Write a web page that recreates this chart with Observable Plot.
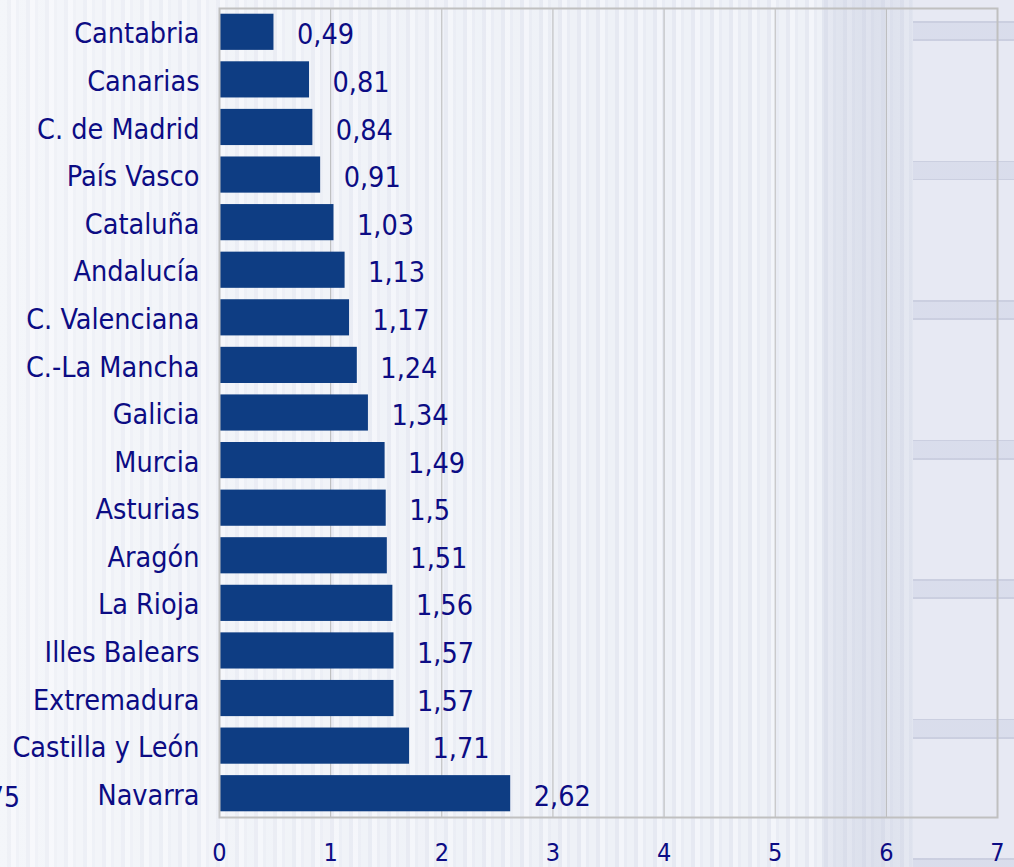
<!DOCTYPE html>
<html>
<head>
<meta charset="utf-8">
<script src="https://cdn.jsdelivr.net/npm/d3@7"></script>
<script src="https://cdn.jsdelivr.net/npm/@observablehq/plot@0.6"></script>
<style>
  html, body { margin: 0; padding: 0; }
  body {
    width: 1014px; height: 867px; overflow: hidden; position: relative;
    background:
      linear-gradient(90deg, rgba(0,0,0,0) 0px, rgba(0,0,0,0) 822px, rgba(196,202,222,0.28) 822px, rgba(190,196,218,0.38) 870px, rgba(196,202,222,0.30) 913px, rgba(0,0,0,0) 913px),
      linear-gradient(90deg, rgba(255,255,255,0.35) 0px, rgba(255,255,255,0) 600px),
      repeating-linear-gradient(90deg, #eef1f7 0px, #eef1f7 7px, #e6e9f2 7px, #e6e9f2 11px, #f3f5fa 11px, #f3f5fa 16px, #e9ecf4 16px, #e9ecf4 19px);
  }
  #right {
    position: absolute; left: 913px; top: 0; width: 101px; height: 867px;
    background: #e7e9f3;
  }
  #band {
    position: absolute; left: 913px; top: 0; width: 101px; height: 867px;
    background: repeating-linear-gradient(180deg, rgba(0,0,0,0) 0px, rgba(0,0,0,0) 21px, rgba(200,204,222,0.9) 21px, rgba(200,204,222,0.9) 23px, rgba(214,218,234,0.8) 23px, rgba(214,218,234,0.8) 39px, rgba(200,204,222,0.9) 39px, rgba(200,204,222,0.9) 41px, rgba(0,0,0,0) 41px, rgba(0,0,0,0) 139.5px);
  }
  #chart { position: absolute; left: 0; top: 0; }
  #cut { position: absolute; left: -12px; top: 781px; font: 28px "DejaVu Sans Condensed", "DejaVu Sans", sans-serif; color: #0c0c84; }
</style>
</head>
<body>
<div id="right"></div>
<div id="band"></div>
<div id="cut">75</div>
<div id="chart"></div>
<script>
const regions = ["Cantabria","Canarias","C. de Madrid","País Vasco","Cataluña","Andalucía","C. Valenciana","C.-La Mancha","Galicia","Murcia","Asturias","Aragón","La Rioja","Illes Balears","Extremadura","Castilla y León","Navarra"];
const values = [0.49,0.81,0.84,0.91,1.03,1.13,1.17,1.24,1.34,1.49,1.5,1.51,1.56,1.57,1.57,1.71,2.62];
const xTicks = [0,1,2,3,4,5,6,7];

const data = regions.map((r, i) => ({region: r, value: values[i]}));
const navy = "#0c0c84";
const barColor = "#0e3d83";
const fmt = v => String(v).replace(".", ",");

const chart = Plot.plot({
  width: 1014,
  height: 867,
  marginLeft: 219,
  marginRight: 17,
  marginTop: 8,
  marginBottom: 50,
  style: {background: "transparent", fontFamily: "'DejaVu Sans Condensed', 'DejaVu Sans', sans-serif", color: navy, overflow: "visible"},
  x: {domain: [0, 7]},
  y: {domain: regions, paddingInner: 0.24, paddingOuter: 0.12, round: false},
  marks: [
    Plot.gridX(xTicks, {stroke: "#b8b8b8", strokeOpacity: 1, strokeWidth: 1}),
    Plot.barX(data, {x: "value", y: "region", fill: barColor}),
    Plot.frame({stroke: "#c0c0c0", strokeWidth: 2}),
    Plot.text(data, {x: "value", y: "region", text: d => fmt(d.value), textAnchor: "start", dx: 23, dy: 3, fontSize: 28.5, fill: navy}),
    Plot.axisY({tickSize: 0, tickPadding: 20, dy: 2, fontSize: 28.5, fill: navy, label: null}),
    Plot.axisX(xTicks, {tickSize: 0, tickPadding: 26, fontSize: 25, fill: navy, label: null, tickFormat: d => String(d)})
  ]
});
document.getElementById("chart").appendChild(chart);
</script>
</body>
</html>
